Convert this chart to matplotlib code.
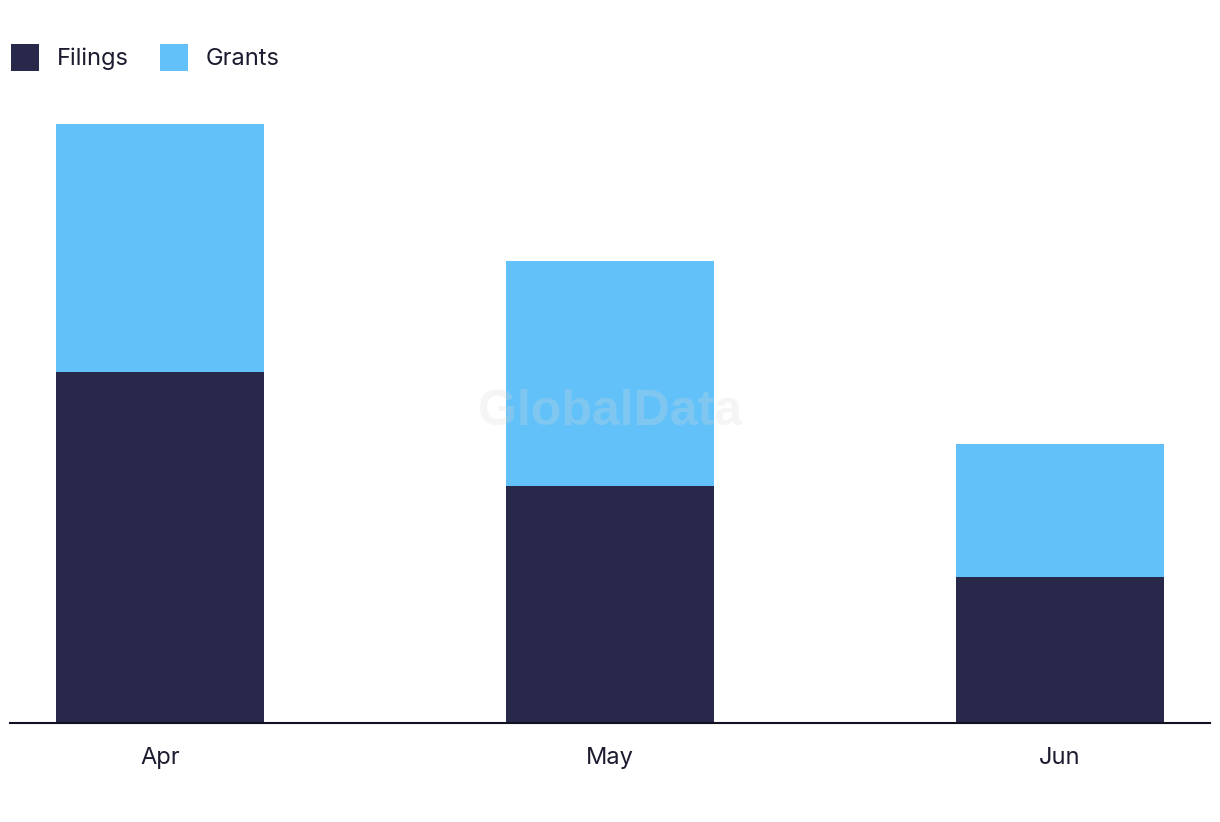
import matplotlib
matplotlib.use('Agg')
import matplotlib.pyplot as plt
import numpy as np

plt.rcParams['font.family'] = ['Inter', 'DejaVu Sans']

months = ['Apr', 'May', 'Jun']
filings = [24, 16.2, 10]
grants = [17, 15.4, 9.1]

dark = '#28284b'
light = '#62c1f9'
text_color = '#1c1c30'

fig = plt.figure(figsize=(12.2, 8.22), dpi=100)
ax = fig.add_axes([10 / 1220, 99 / 822, 1200 / 1220, 624 / 822])

x = np.arange(len(months))
width = 0.462
ax.bar(x, filings, width=width, color=dark, label='Filings')
ax.bar(x, grants, width=width, bottom=filings, color=light, label='Grants')

ax.set_xlim(-1 / 3, 7 / 3)
ax.set_ylim(0, 42.7)
ax.set_xticks(x, months)
ax.set_yticks([])
ax.tick_params(axis='x', length=0, pad=17, labelsize=17, labelcolor=text_color)
for side in ['top', 'right', 'left']:
    ax.spines[side].set_visible(False)
ax.spines['bottom'].set_color('#111122')
ax.spines['bottom'].set_linewidth(1.5)

ax.text(0.5, 0.498, 'GlobalData', transform=ax.transAxes, ha='center', va='center',
        fontsize=36, fontweight='bold', family=['Liberation Sans', 'DejaVu Sans'],
        color='#d8d8d8', alpha=0.25, zorder=5)

leg = fig.legend(loc='upper left', bbox_to_anchor=(0.0, 0.96), ncol=2, frameon=False,
                 fontsize=17, handlelength=1.19, handleheight=1.4, handletextpad=0.75,
                 columnspacing=1.35, borderaxespad=0, borderpad=0.45)
for t in leg.get_texts():
    t.set_color(text_color)

fig.savefig('out.png', dpi=100)
